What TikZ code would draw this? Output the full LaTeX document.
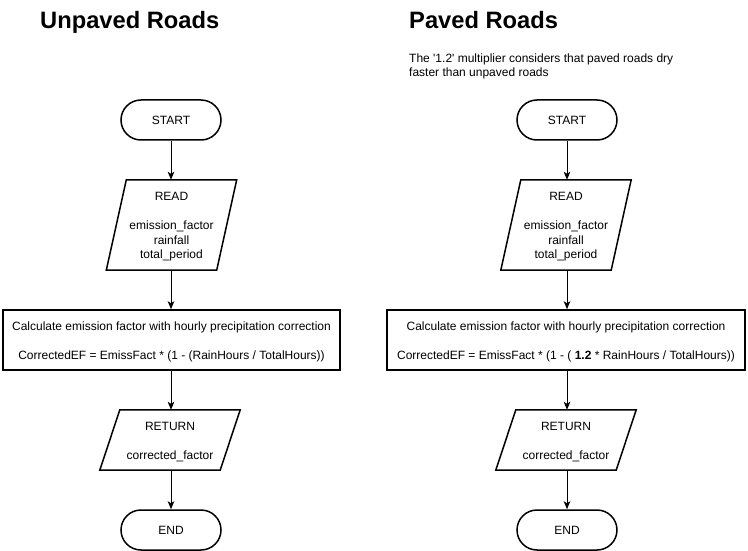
\documentclass[tikz,border=0pt]{standalone}
\usepackage{fontspec}
\newfontfamily\arial{Liberation Sans}
\usetikzlibrary{arrows.meta}
\begin{document}
\begin{tikzpicture}[x=1pt,y=-1pt,
  every node/.style={font=\arial\fontsize{12}{14.5}\selectfont, inner sep=0pt, align=center},
  title/.style={anchor=base west, font=\arial\bfseries\fontsize{23.7}{27}\selectfont},
  term/.style={draw, line width=1.5pt, rounded corners=20pt, minimum width=100pt, minimum height=40pt},
  procbox/.style={draw, line width=1.5pt, minimum height=60pt},
  paraline/.style={line width=1.5pt, line join=miter},
  arr/.style={-{Stealth[length=8pt,width=6.5pt,inset=2pt]}, line width=1pt}]
\useasboundingbox (0,0) rectangle (748,551);

% titles
\node[title] (t1) at (40,28.5) {Unpaved Roads};
\node[title] (t2) at (409,28.5) {Paved Roads};
\node[anchor=base west, align=left, font=\arial\fontsize{12}{14}\selectfont] (note) at (409,76.5)
  {The '1.2' multiplier considers that paved roads dry\\faster than unpaved roads};

% ---------- left column ----------
\node[term] (s1) at (171,120) {START};
\node[minimum width=130pt, minimum height=90pt,
  label={[name=r1t, yshift=-2pt]center:READ\\\mbox{}\\emission\_factor\\rainfall\\total\_period}] (r1) at (171.5,225) {};
\draw[paraline] ([xshift=20pt]r1.north west) -- (r1.north east) -- ([xshift=-20pt]r1.south east) -- (r1.south west) -- cycle;
\node[procbox, minimum width=337pt,
  label={[name=c1t, yshift=-1.5pt]center:Calculate emission factor with hourly precipitation correction\\\mbox{}\\CorrectedEF = EmissFact * (1 - (RainHours / TotalHours))}] (c1) at (171.5,340) {};
\node[minimum width=140pt, minimum height=60pt,
  label={[name=o1t, yshift=-2pt]center:RETURN\\\mbox{}\\corrected\_factor}] (o1) at (170,440) {};
\draw[paraline] ([xshift=20pt]o1.north west) -- (o1.north east) -- ([xshift=-20pt]o1.south east) -- (o1.south west) -- cycle;
\node[term] (e1) at (171,530) {END};

\draw[arr] (s1.south) -- (s1.south |- r1.north);
\draw[arr] (r1.south -| s1.south) -- (c1.north -| s1.south);
\draw[arr] (c1.south -| s1.south) -- (o1.north -| s1.south);
\draw[arr] (o1.south -| s1.south) -- (e1.north);

% ---------- right column ----------
\node[term] (s2) at (567,120) {START};
\node[minimum width=130pt, minimum height=90pt,
  label={[name=r2t, yshift=-2pt]center:READ\\\mbox{}\\emission\_factor\\rainfall\\total\_period}] (r2) at (566,225) {};
\draw[paraline] ([xshift=20pt]r2.north west) -- (r2.north east) -- ([xshift=-20pt]r2.south east) -- (r2.south west) -- cycle;
\node[procbox, minimum width=358pt,
  label={[name=c2t, yshift=-1.5pt]center:Calculate emission factor with hourly precipitation correction\\\mbox{}\\CorrectedEF = EmissFact * (1 - ( {\bfseries 1.2} * RainHours / TotalHours))}] (c2) at (566,340) {};
\node[minimum width=140pt, minimum height=60pt,
  label={[name=o2t, yshift=-2pt]center:RETURN\\\mbox{}\\corrected\_factor}] (o2) at (566,440) {};
\draw[paraline] ([xshift=20pt]o2.north west) -- (o2.north east) -- ([xshift=-20pt]o2.south east) -- (o2.south west) -- cycle;
\node[term] (e2) at (567,530) {END};

\draw[arr] (s2.south) -- (s2.south |- r2.north);
\draw[arr] (r2.south -| s2.south) -- (c2.north -| s2.south);
\draw[arr] (c2.south -| s2.south) -- (o2.north -| s2.south);
\draw[arr] (o2.south -| s2.south) -- (e2.north);
\end{tikzpicture}
\end{document}
